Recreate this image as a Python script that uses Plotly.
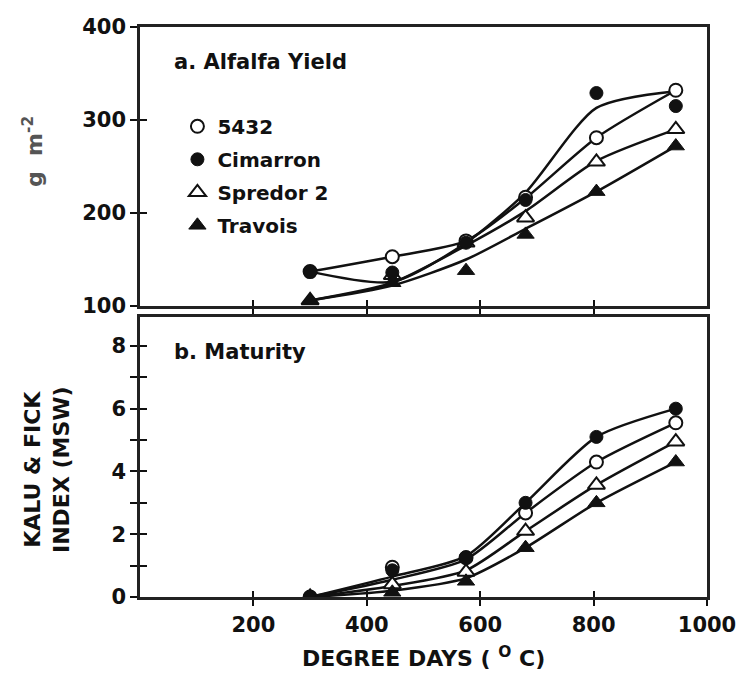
import plotly.graph_objects as go

# ---------------- data ----------------
degree_days = [300, 445, 575, 680, 805, 945]

# a. Alfalfa yield (g m-2) – observed points
yield_5432 = [137, 153, 170, 217, 281, 332]
yield_cimarron = [137, 136, 168, 214, 329, 315]
yield_spredor = [106, 133, 168, 195, 255, 290]
yield_travois = [106, 125, 138, 177, 223, 272]

# a. fitted curves
fit_yield_5432 = [137, 153, 170, 216, 281, 332]
fit_yield_cimarron = [137, 126, 168, 222, 313, 331]
fit_yield_spredor = [106, 125, 165, 202, 256, 290]
fit_yield_travois = [106, 122, 150, 183, 223, 272]

# b. Maturity (Kalu & Fick index, MSW) – observed points
msw_5432 = [0.0, 0.95, 1.25, 2.68, 4.3, 5.55]
msw_cimarron = [0.0, 0.85, 1.27, 3.0, 5.1, 6.0]
msw_spredor = [0.0, 0.4, 0.8, 2.1, 3.57, 4.95]
msw_travois = [0.0, 0.15, 0.5, 1.57, 3.0, 4.3]

# b. fitted curves
fit_msw_5432 = [0.0, 0.55, 1.2, 2.68, 4.3, 5.55]
fit_msw_cimarron = [0.0, 0.65, 1.3, 3.0, 5.1, 6.0]
fit_msw_spredor = [0.0, 0.35, 0.85, 2.1, 3.57, 4.95]
fit_msw_travois = [0.0, 0.2, 0.6, 1.57, 3.0, 4.3]

series_names = ["5432", "Cimarron", "Spredor 2", "Travois"]

x_ticks = [200, 400, 600, 800, 1000]
yield_ticks = [100, 200, 300, 400]
msw_ticks = [0, 2, 4, 6, 8]
msw_minor_ticks = [1, 3, 5, 7]

# ---------------- style ----------------
FONT = "DejaVu Sans"
INK = "#111111"
styles = {
    "5432": dict(symbol="circle", size=13, color="white", line=dict(color=INK, width=2)),
    "Cimarron": dict(symbol="circle", size=13, color=INK, line=dict(color=INK, width=1)),
    "Spredor 2": dict(symbol="triangle-up", size=15, color="white", line=dict(color=INK, width=2)),
    "Travois": dict(symbol="triangle-up", size=15, color=INK, line=dict(color=INK, width=1)),
}
draw_order = ["Spredor 2", "5432", "Cimarron", "Travois"]

fig = go.Figure()

top_pts = dict(zip(series_names, [yield_5432, yield_cimarron, yield_spredor, yield_travois]))
top_fit = dict(zip(series_names, [fit_yield_5432, fit_yield_cimarron, fit_yield_spredor, fit_yield_travois]))
bot_pts = dict(zip(series_names, [msw_5432, msw_cimarron, msw_spredor, msw_travois]))
bot_fit = dict(zip(series_names, [fit_msw_5432, fit_msw_cimarron, fit_msw_spredor, fit_msw_travois]))

# fitted lines first
for name in series_names:
    fig.add_trace(go.Scatter(x=degree_days, y=top_fit[name], mode="lines",
                             line=dict(color=INK, width=2.5, shape="spline", smoothing=0.7),
                             showlegend=False, hoverinfo="skip", xaxis="x", yaxis="y"))
    fig.add_trace(go.Scatter(x=degree_days, y=bot_fit[name], mode="lines",
                             line=dict(color=INK, width=2.5, shape="spline", smoothing=0.7),
                             showlegend=False, hoverinfo="skip", xaxis="x2", yaxis="y2"))

# markers (legend entries come from the top panel, listed in series order)
for name in draw_order:
    fig.add_trace(go.Scatter(x=degree_days, y=top_pts[name], mode="markers", name=name,
                             marker=styles[name], legendgroup=name,
                             legendrank=series_names.index(name) + 1,
                             xaxis="x", yaxis="y"))
for name in draw_order:
    fig.add_trace(go.Scatter(x=degree_days, y=bot_pts[name], mode="markers", name=name,
                             marker=styles[name], legendgroup=name, showlegend=False,
                             xaxis="x2", yaxis="y2"))

# empty traces so the overlay (inside-tick) axes are drawn
for xa, ya in [("x3", "y3"), ("x4", "y4")]:
    fig.add_trace(go.Scatter(x=[None], y=[None], xaxis=xa, yaxis=ya, showlegend=False,
                             hoverinfo="skip"))

top_dom = [0.5105, 1.0]
bot_dom = [0.0, 0.4912]
tickfont = dict(family=FONT, size=21, color=INK, weight="bold")
axline = dict(showline=True, linecolor="#222222", linewidth=2.5, showgrid=False, zeroline=False)
tk = dict(tickwidth=2, tickcolor=INK)
ov = dict(showticklabels=False, showline=False, showgrid=False, zeroline=False)

fig.update_layout(
    width=747, height=676,
    margin=dict(l=140, r=40, t=27, b=79),
    paper_bgcolor="white", plot_bgcolor="white",
    font=dict(family=FONT, color=INK),
    xaxis=dict(domain=[0, 1], range=[0, 1000], anchor="y", tickvals=x_ticks[:-1],
               ticks="outside", ticklen=6, showticklabels=False, mirror=True, **tk, **axline),
    yaxis=dict(domain=top_dom, range=[100, 400], anchor="x", tickvals=yield_ticks,
               ticks="outside", ticklen=7, tickfont=tickfont, mirror=True, **tk, **axline),
    xaxis2=dict(domain=[0, 1], range=[0, 1000], anchor="y2", tickvals=x_ticks,
                ticks="outside", ticklen=6, tickfont=tickfont, ticklabelstandoff=1,
                mirror=True, **tk, **axline),
    yaxis2=dict(domain=bot_dom, range=[0, 8.92], anchor="x2", tickvals=msw_ticks,
                ticks="outside", ticklen=7, tickfont=tickfont, mirror=True,
                minor=dict(tickvals=msw_minor_ticks, ticks="outside", ticklen=7,
                           tickwidth=2, tickcolor=INK, showgrid=False),
                **tk, **axline),
    xaxis3=dict(overlaying="x", anchor="y", range=[0, 1000], tickvals=x_ticks[:-1],
                ticks="inside", ticklen=6, **tk, **ov),
    yaxis3=dict(overlaying="y", anchor="x", range=[100, 400], tickvals=yield_ticks,
                ticks="inside", ticklen=7, **tk, **ov),
    xaxis4=dict(overlaying="x2", anchor="y2", range=[0, 1000], tickvals=x_ticks[:-1],
                ticks="inside", ticklen=6, **tk, **ov),
    yaxis4=dict(overlaying="y2", anchor="x2", range=[0, 8.92], tickvals=msw_ticks,
                ticks="inside", ticklen=7,
                minor=dict(tickvals=msw_minor_ticks, ticks="inside", ticklen=7,
                           tickwidth=2, tickcolor=INK, showgrid=False),
                **tk, **ov),
    legend=dict(x=0.066, y=0.860, xanchor="left", yanchor="top",
                bgcolor="rgba(0,0,0,0)", tracegroupgap=4,
                font=dict(family=FONT, size=20, color=INK, weight="bold")),
    showlegend=True,
)

bold = dict(family=FONT, color=INK, weight="bold")
fig.add_annotation(text="a. Alfalfa Yield", xref="paper", yref="paper", x=0.0564, y=0.9386,
                   xanchor="left", yanchor="middle", showarrow=False, font=dict(size=21, **bold))
fig.add_annotation(text="b. Maturity", xref="paper", yref="paper", x=0.0564, y=0.4298,
                   xanchor="left", yanchor="middle", showarrow=False, font=dict(size=21, **bold))
fig.add_annotation(text="g  m<sup>-2</sup>", xref="paper", yref="paper",
                   x=(33 - 140) / 567, y=1 - (152 - 27) / 570, textangle=-90,
                   xanchor="center", yanchor="middle", showarrow=False,
                   font=dict(family=FONT, size=22, color="#555555", weight="bold"))
fig.add_annotation(text="KALU & FICK<br>INDEX (MSW)", xref="paper", yref="paper",
                   x=(47 - 140) / 567, y=(597 - 470) / 570, textangle=-90,
                   xanchor="center", yanchor="middle", showarrow=False,
                   font=dict(size=22, **bold))
fig.add_annotation(text="DEGREE DAYS ( <sup>O</sup> C)", xref="paper", yref="paper",
                   x=0.5, y=(597 - 673) / 570, xanchor="center", yanchor="bottom",
                   showarrow=False, font=dict(size=22, **bold))

fig.write_html("out.html", config={"displayModeBar": False},
               post_script="document.body.style.margin='0';document.body.style.overflow='hidden';")
